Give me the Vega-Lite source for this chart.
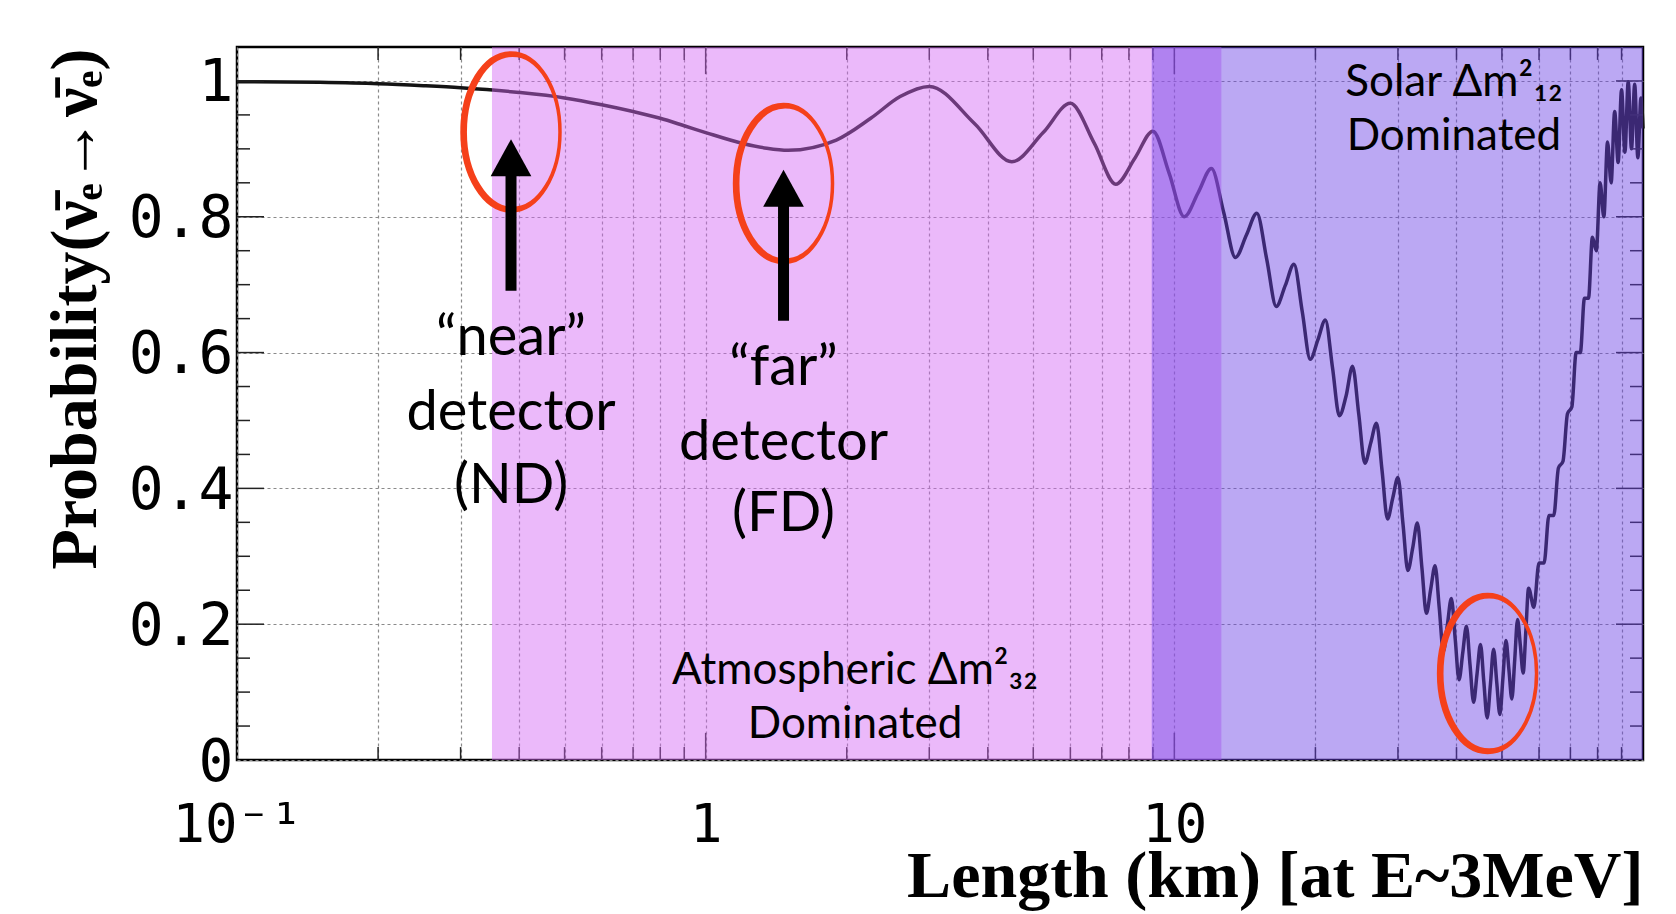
{
  "$schema": "https://vega.github.io/schema/vega-lite/v6.json",
  "width": 1406,
  "height": 713,
  "autosize": {"type": "none"},
  "padding": {"left": 237, "top": 47, "right": 33, "bottom": 154},
  "background": "#ffffff",
  "config": {
    "view": {"stroke": "#000000", "strokeWidth": 2.5},
    "axis": {"labelColor": "#000000", "titleColor": "#000000"}
  },
  "datasets": {
    "curve": [
      {"L": 0.1, "P": 0.999}, {"L": 0.15, "P": 0.998}, {"L": 0.2, "P": 0.996}, {"L": 0.25, "P": 0.993},
      {"L": 0.3, "P": 0.99}, {"L": 0.4, "P": 0.983}, {"L": 0.5, "P": 0.975}, {"L": 0.6, "P": 0.965},
      {"L": 0.7, "P": 0.955}, {"L": 0.8, "P": 0.945}, {"L": 0.9, "P": 0.934}, {"L": 1.0, "P": 0.924},
      {"L": 1.2, "P": 0.908}, {"L": 1.35, "P": 0.901}, {"L": 1.5, "P": 0.898}, {"L": 1.9, "P": 0.913},
      {"L": 2.25, "P": 0.945}, {"L": 2.6, "P": 0.977}, {"L": 3, "P": 0.992}, {"L": 3.75, "P": 0.937},
      {"L": 4.5, "P": 0.881}, {"L": 5.25, "P": 0.924}, {"L": 6, "P": 0.967}, {"L": 6.75, "P": 0.908},
      {"L": 7.5, "P": 0.848}, {"L": 8.25, "P": 0.887}, {"L": 9, "P": 0.926}, {"L": 9.75, "P": 0.864},
      {"L": 10.5, "P": 0.8}, {"L": 11.25, "P": 0.836}, {"L": 12, "P": 0.871}, {"L": 12.75, "P": 0.806},
      {"L": 13.5, "P": 0.74}, {"L": 14.25, "P": 0.773}, {"L": 15, "P": 0.805}, {"L": 15.75, "P": 0.737},
      {"L": 16.5, "P": 0.668}, {"L": 17.25, "P": 0.699}, {"L": 18, "P": 0.73}, {"L": 18.75, "P": 0.66},
      {"L": 19.5, "P": 0.59}, {"L": 20.25, "P": 0.619}, {"L": 21, "P": 0.648}, {"L": 21.75, "P": 0.578},
      {"L": 22.5, "P": 0.507}, {"L": 23.25, "P": 0.536}, {"L": 24, "P": 0.58}, {"L": 24.75, "P": 0.509},
      {"L": 25.5, "P": 0.437}, {"L": 26.25, "P": 0.467}, {"L": 27, "P": 0.496}, {"L": 27.75, "P": 0.426},
      {"L": 28.5, "P": 0.355}, {"L": 29.25, "P": 0.386}, {"L": 30, "P": 0.416}, {"L": 30.75, "P": 0.348},
      {"L": 31.5, "P": 0.279}, {"L": 32.25, "P": 0.312}, {"L": 33, "P": 0.349}, {"L": 33.75, "P": 0.283},
      {"L": 34.5, "P": 0.216}, {"L": 35.25, "P": 0.252}, {"L": 36, "P": 0.286}, {"L": 36.75, "P": 0.224},
      {"L": 37.5, "P": 0.16}, {"L": 38.25, "P": 0.199}, {"L": 39, "P": 0.238}, {"L": 39.75, "P": 0.178},
      {"L": 40.5, "P": 0.118}, {"L": 41.25, "P": 0.158}, {"L": 42, "P": 0.197}, {"L": 42.75, "P": 0.14},
      {"L": 43.5, "P": 0.085}, {"L": 44.25, "P": 0.127}, {"L": 45, "P": 0.17}, {"L": 45.75, "P": 0.115},
      {"L": 46.5, "P": 0.062}, {"L": 47.25, "P": 0.111}, {"L": 48, "P": 0.163}, {"L": 48.75, "P": 0.114},
      {"L": 49.5, "P": 0.067}, {"L": 50.25, "P": 0.121}, {"L": 51, "P": 0.176}, {"L": 51.75, "P": 0.133},
      {"L": 52.5, "P": 0.09}, {"L": 53.25, "P": 0.148}, {"L": 54, "P": 0.207}, {"L": 54.75, "P": 0.168},
      {"L": 55.5, "P": 0.128}, {"L": 56.25, "P": 0.191}, {"L": 57, "P": 0.253}, {"L": 58.5, "P": 0.225},
      {"L": 60, "P": 0.29}, {"L": 61.5, "P": 0.29}, {"L": 63, "P": 0.36}, {"L": 64.5, "P": 0.36},
      {"L": 66, "P": 0.43}, {"L": 67.5, "P": 0.44}, {"L": 69, "P": 0.51}, {"L": 70.5, "P": 0.52},
      {"L": 72, "P": 0.6}, {"L": 73.5, "P": 0.6}, {"L": 75, "P": 0.68}, {"L": 76.5, "P": 0.68},
      {"L": 78, "P": 0.77}, {"L": 79.5, "P": 0.75}, {"L": 81, "P": 0.85}, {"L": 82.5, "P": 0.8},
      {"L": 84, "P": 0.91}, {"L": 85.5, "P": 0.85}, {"L": 87, "P": 0.955}, {"L": 88.5, "P": 0.88},
      {"L": 90, "P": 0.987}, {"L": 91.5, "P": 0.895}, {"L": 93, "P": 0.999}, {"L": 94.5, "P": 0.9},
      {"L": 96, "P": 0.995}, {"L": 97.5, "P": 0.887}, {"L": 99, "P": 0.975}, {"L": 100, "P": 0.93}
    ],
    "yminor": [{"p": 0.05}, {"p": 0.1}, {"p": 0.15}, {"p": 0.25}, {"p": 0.3}, {"p": 0.35}, {"p": 0.45}, {"p": 0.5}, {"p": 0.55}, {"p": 0.65}, {"p": 0.7}, {"p": 0.75}, {"p": 0.85}, {"p": 0.9}, {"p": 0.95}],
    "ymajor": [{"p": 0.2}, {"p": 0.4}, {"p": 0.6}, {"p": 0.8}, {"p": 1.0}],
    "xminor": [{"L": 0.2}, {"L": 0.3}, {"L": 0.4}, {"L": 0.5}, {"L": 0.6}, {"L": 0.7}, {"L": 0.8}, {"L": 0.9}, {"L": 2}, {"L": 3}, {"L": 4}, {"L": 5}, {"L": 6}, {"L": 7}, {"L": 8}, {"L": 9}, {"L": 20}, {"L": 30}, {"L": 40}, {"L": 50}, {"L": 60}, {"L": 70}, {"L": 80}, {"L": 90}],
    "xmajor": [{"L": 1}, {"L": 10}],
    "bands": [{"from": 0.35, "to": 12.6, "regime": "atmospheric"}, {"from": 8.95, "to": 100, "regime": "solar"}],
    "rings": [{"L": 0.3843, "P": 0.925}, {"L": 1.466, "P": 0.849}, {"L": 46.6, "P": 0.1275}],
    "arrows": [{"L": 0.3843, "base": 0.691, "head": 0.887}, {"L": 1.466, "base": 0.647, "head": 0.842}],
    "bigtext": [
      {"L": 0.3843, "P": 0.5965, "t": "“near”"},
      {"L": 0.3843, "P": 0.486, "t": "detector"},
      {"L": 0.3843, "P": 0.379, "t": "(ND)"},
      {"L": 1.466, "P": 0.552, "t": "“far”"},
      {"L": 1.466, "P": 0.442, "t": "detector"},
      {"L": 1.466, "P": 0.337, "t": "(FD)"}
    ],
    "smalltext": [
      {"L": 2.083, "P": 0.112, "t": "Atmospheric Δm²₃₂"},
      {"L": 2.083, "P": 0.032, "t": "Dominated"},
      {"L": 39.5, "P": 0.978, "t": "Solar Δm²₁₂"},
      {"L": 39.5, "P": 0.898, "t": "Dominated"}
    ]
  },
  "layer": [
    {
      "data": {"name": "curve"},
      "mark": {"type": "line", "color": "#141414", "strokeWidth": 3.5, "interpolate": "monotone"},
      "encoding": {
        "x": {
          "field": "L", "type": "quantitative",
          "scale": {"type": "log", "domain": [0.1, 100], "nice": false},
          "axis": {
            "values": [0.1, 0.2, 0.3, 0.4, 0.5, 0.6, 0.7, 0.8, 0.9, 1, 2, 3, 4, 5, 6, 7, 8, 9, 10, 20, 30, 40, 50, 60, 70, 80, 90],
            "grid": true, "gridColor": "#8a8a8a", "gridDash": [3, 3], "gridWidth": 1.2,
            "ticks": false, "domain": false,
            "labelExpr": "datum.value == 0.1 ? '10⁻¹' : datum.value == 1 ? '1' : datum.value == 10 ? '10' : ''",
            "labelFont": "DejaVu Sans Mono", "labelFontSize": 54, "labelPadding": 38, "labelBaseline": "top",
            "labelFlush": false, "labelOverlap": false, "labelBound": false,
            "title": "Length (km) [at E~3MeV]",
            "titleFont": "Liberation Serif", "titleFontWeight": "bold", "titleFontSize": 66,
            "titleAnchor": "end", "titleAlign": "right", "titleBaseline": "alphabetic",
            "titleX": 1406, "titleY": 136
          }
        },
        "y": {
          "field": "P", "type": "quantitative",
          "scale": {"domain": [0, 1.05], "nice": false, "zero": false},
          "axis": {
            "values": [0, 0.2, 0.4, 0.6, 0.8, 1],
            "format": ".1~f",
            "grid": true, "gridColor": "#8a8a8a", "gridDash": [3, 3], "gridWidth": 1.2,
            "ticks": false, "domain": false,
            "labelFont": "DejaVu Sans Mono", "labelFontSize": 58, "labelPadding": 4, "labelOffset": 3,
            "labelBaseline": "middle", "labelOverlap": false, "labelBound": false, "labelFlush": false,
            "title": "Probability(ν̄ₑ→ν̄ₑ)",
            "titleFont": "Liberation Serif", "titleFontWeight": "bold", "titleFontSize": 66,
            "titleAngle": -90, "titleAnchor": "end", "titleAlign": "right", "titleBaseline": "middle",
            "titleX": -162, "titleY": 1
          }
        }
      }
    },
    {
      "data": {"name": "yminor"},
      "mark": {"type": "rule", "color": "#222222", "strokeWidth": 1.5},
      "encoding": {"y": {"field": "p", "type": "quantitative"}, "x": {"datum": 0.1}, "x2": {"datum": 0.1066}}
    },
    {
      "data": {"name": "ymajor"},
      "mark": {"type": "rule", "color": "#222222", "strokeWidth": 1.5},
      "encoding": {"y": {"field": "p", "type": "quantitative"}, "x": {"datum": 0.1}, "x2": {"datum": 0.1142}}
    },
    {
      "data": {"name": "yminor"},
      "mark": {"type": "rule", "color": "#222222", "strokeWidth": 1.5},
      "encoding": {"y": {"field": "p", "type": "quantitative"}, "x": {"datum": 93.82}, "x2": {"datum": 100}}
    },
    {
      "data": {"name": "ymajor"},
      "mark": {"type": "rule", "color": "#222222", "strokeWidth": 1.5},
      "encoding": {"y": {"field": "p", "type": "quantitative"}, "x": {"datum": 87.58}, "x2": {"datum": 100}}
    },
    {
      "data": {"name": "xminor"},
      "mark": {"type": "rule", "color": "#222222", "strokeWidth": 1.5},
      "encoding": {"x": {"field": "L", "type": "quantitative"}, "y": {"datum": 0}, "y2": {"datum": 0.019}}
    },
    {
      "data": {"name": "xmajor"},
      "mark": {"type": "rule", "color": "#222222", "strokeWidth": 1.5},
      "encoding": {"x": {"field": "L", "type": "quantitative"}, "y": {"datum": 0}, "y2": {"datum": 0.04}}
    },
    {
      "data": {"name": "xminor"},
      "mark": {"type": "rule", "color": "#222222", "strokeWidth": 1.5},
      "encoding": {"x": {"field": "L", "type": "quantitative"}, "y": {"datum": 1.031}, "y2": {"datum": 1.05}}
    },
    {
      "data": {"name": "xmajor"},
      "mark": {"type": "rule", "color": "#222222", "strokeWidth": 1.5},
      "encoding": {"x": {"field": "L", "type": "quantitative"}, "y": {"datum": 1.01}, "y2": {"datum": 1.05}}
    },
    {
      "data": {"name": "bands"},
      "mark": {"type": "rect", "opacity": 0.46},
      "encoding": {
        "x": {"field": "from", "type": "quantitative"},
        "x2": {"field": "to"},
        "y": {"datum": 0},
        "y2": {"datum": 1.05},
        "color": {"field": "regime", "type": "nominal", "scale": {"domain": ["atmospheric", "solar"], "range": ["#D467F4", "#6B42E5"]}, "legend": null}
      }
    },
    {
      "data": {"name": "rings"},
      "mark": {
        "type": "point", "filled": false, "stroke": "#F5401A", "strokeWidth": 3.5, "opacity": 1, "size": 24964,
        "shape": "M 0 -1 C 0.342 -1 0.62 -0.552 0.62 0 C 0.62 0.552 0.342 1 0 1 C -0.342 1 -0.62 0.552 -0.62 0 C -0.62 -0.552 -0.342 -1 0 -1 Z M 0.02 -0.97 C 0.351 -0.97 0.62 -0.535 0.62 0 C 0.62 0.535 0.351 0.97 0.02 0.97 C -0.311 0.97 -0.58 0.535 -0.58 0 C -0.58 -0.535 -0.311 -0.97 0.02 -0.97 Z"
      },
      "encoding": {"x": {"field": "L", "type": "quantitative"}, "y": {"field": "P", "type": "quantitative"}}
    },
    {
      "data": {"name": "arrows"},
      "mark": {"type": "rule", "color": "#000000", "strokeWidth": 11, "strokeCap": "butt"},
      "encoding": {"x": {"field": "L", "type": "quantitative"}, "y": {"field": "base", "type": "quantitative"}, "y2": {"field": "head"}}
    },
    {
      "data": {"name": "arrows"},
      "mark": {"type": "point", "filled": true, "color": "#000000", "opacity": 1, "size": 1369, "shape": "M 0 -1 L 1.1 1 L -1.1 1 Z"},
      "encoding": {"x": {"field": "L", "type": "quantitative"}, "y": {"field": "head", "type": "quantitative"}}
    },
    {
      "data": {"name": "bigtext"},
      "mark": {"type": "text", "font": "Lato", "fontSize": 56, "color": "#000000", "align": "center", "baseline": "alphabetic"},
      "encoding": {"x": {"field": "L", "type": "quantitative"}, "y": {"field": "P", "type": "quantitative"}, "text": {"field": "t"}}
    },
    {
      "data": {"name": "smalltext"},
      "mark": {"type": "text", "font": "Lato", "fontSize": 44, "color": "#000000", "align": "center", "baseline": "alphabetic"},
      "encoding": {"x": {"field": "L", "type": "quantitative"}, "y": {"field": "P", "type": "quantitative"}, "text": {"field": "t"}}
    }
  ]
}
